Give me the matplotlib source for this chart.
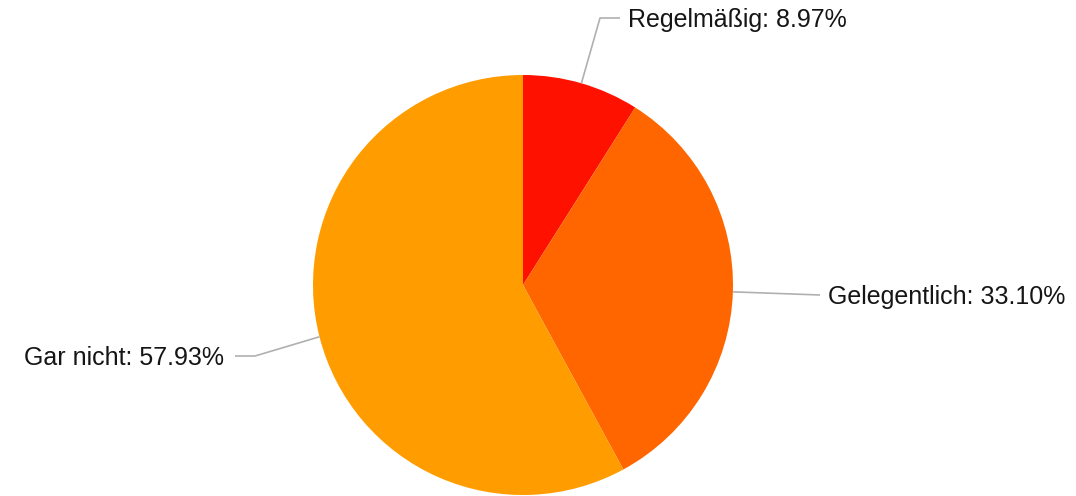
import numpy as np
import matplotlib.pyplot as plt

plt.rcParams['font.family'] = ['Liberation Sans', 'DejaVu Sans']

labels = ['Regelmäßig', 'Gelegentlich', 'Gar nicht']
shares = [8.97, 33.10, 57.93]
colors = ['#ff1100', '#ff6600', '#ff9c00']

# knee and text anchor of each leader line, in pixels (y up)
knees = [(600, 478), (820, 201), (255, 140)]
ends = [(620, 478), (820, 201), (235, 140)]
text_x = [628, 828, 224]
aligns = ['left', 'left', 'right']

W, H = 1076, 496
fig = plt.figure(figsize=(W / 100, H / 100), dpi=100)
ax = fig.add_axes([0, 0, 1, 1])

cx, cy, r = 523, 211, 210
wedges, _ = ax.pie(shares, colors=colors, startangle=90, counterclock=False,
                   center=(cx, cy), radius=r, frame=True,
                   wedgeprops=dict(linewidth=0))
ax.set_xlim(0, W)
ax.set_ylim(0, H)
ax.set_aspect('equal')
ax.axis('off')

for w, lab, val, k, e, tx, ha in zip(wedges, labels, shares, knees, ends, text_x, aligns):
    mid = np.deg2rad((w.theta1 + w.theta2) / 2)
    px, py = cx + r * np.cos(mid), cy + r * np.sin(mid)
    ax.plot([px, k[0], e[0]], [py, k[1], e[1]], color='#b0b0b0', lw=1.2,
            solid_capstyle='butt')
    ax.text(tx, e[1] - 2, f'{lab}: {val:.2f}%', ha=ha, va='center',
            fontsize=18, color='#151515')

fig.savefig('out.png', dpi=100)
